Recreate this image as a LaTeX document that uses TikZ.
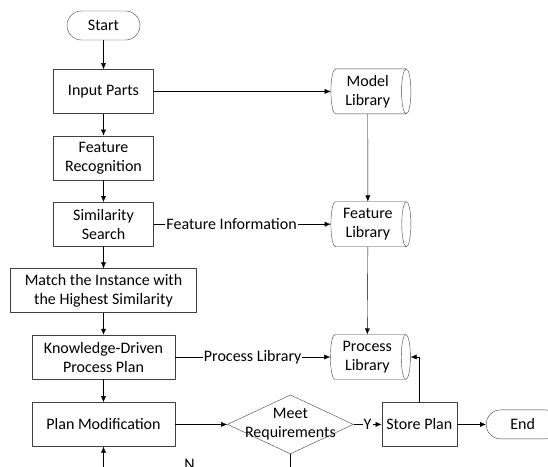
\documentclass[tikz,border=0pt]{standalone}
\usepackage{fontspec}
\setmainfont{Carlito}
\usetikzlibrary{arrows.meta,positioning,shapes.geometric}

\begin{document}
\begin{tikzpicture}[
    x=1pt, y=-1pt,
    font=\fontsize{16}{19}\selectfont,
    >={Latex[length=6pt,width=5pt]},
    line join=round,
    block/.style={draw=black!75, align=center, inner sep=2pt, minimum width=100pt, minimum height=44pt},
    term/.style={draw=black!75, rounded corners=14.5pt, align=center, minimum width=73pt, minimum height=29pt},
    lib/.style={draw=black!75, cylinder, shape aspect=0.27, align=center, inner sep=1pt, minimum width=45pt, minimum height=80pt},
    dec/.style={draw=black!75, diamond, inner sep=0pt, minimum width=126pt, minimum height=59pt},
    flow/.style={->, black},
    tag/.style={fill=white, inner sep=1pt}
]
\clip (0,0) rectangle (548,466);

% ------------------------
% Main process column
% ------------------------
\node[term] (start) at (103.5,25.5) {Start};
\node[block, below=29pt of start] (input) {Input Parts};
\node[block, below=22pt of input] (recog) {Feature\\Recognition};
\node[block, below=22pt of recog] (search) {Similarity\\Search};
\node[block, below=22pt of search, minimum width=186pt] (match) {Match the Instance with\\the Highest Similarity};
\node[block, below=22pt of match, minimum width=143pt] (kplan) {Knowledge-Driven\\Process Plan};
\node[block, below=23pt of kplan, minimum width=143pt] (modify) {Plan Modification};

\draw[flow] (start.south) -- (input.north);
\draw[flow] (input.south) -- (recog.north);
\draw[flow] (recog.south) -- (search.north);
\draw[flow] (search.south) -- (match.north);
\draw[flow] (match.south) -- (kplan.north);
\draw[flow] (kplan.south) -- (modify.north);

% ------------------------
% Libraries
% ------------------------
\node[lib, right=177pt of input] (modellib) {Model\\Library};
\node[lib, right=177pt of search] (featlib) {Feature\\Library};
\node[lib, right=155pt of kplan] (proclib) {Process\\Library};

\draw[flow] (input.east) -- (modellib.west);
\draw[flow] (modellib.south) -- (featlib.north);
\draw[flow] (featlib.south) -- (proclib.north);
\draw[flow] (search.east) -- node[tag, pos=0.44] (featinfo) {Feature Information} (featlib.west);
\draw[flow] (kplan.east) -- node[tag] (procinfo) {Process Library} (proclib.west);

% ------------------------
% Check and storage
% ------------------------
\node[dec, right=52pt of modify] (meet) {};
\node[align=center] (meettxt) at (meet) {Meet\\Requirements};
\node[block, right=28pt of meet, minimum width=75pt] (store) {Store Plan};
\node[term, right=29pt of store] (finish) {End};

\draw[flow] (modify.east) -- (meet.west);
\draw[flow] (meet.east) -- node[tag] (yes) {Y} (store.west);
\draw[flow] (store.east) -- (finish.west);
\draw[flow] (store.north) |- (proclib.east);
\draw[flow] (meet.south) -- ++(0,26) -| node[pos=0.27, above=9pt, inner sep=1pt] (no) {N} (modify.south);

\end{tikzpicture}
\end{document}
